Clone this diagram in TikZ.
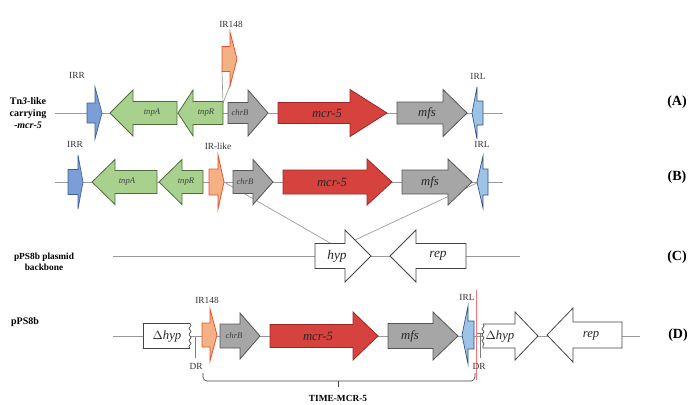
\documentclass[tikz,border=0pt]{standalone}
\usepackage{fontspec}
\setmainfont{Liberation Serif}
\usetikzlibrary{decorations.pathmorphing}

\definecolor{linegrey}{HTML}{9A9A9A}
\definecolor{irrblue}{HTML}{7C9ED6}
\definecolor{irrblueedge}{HTML}{3E5F94}
\definecolor{irlblue}{HTML}{9DC3E6}
\definecolor{irlblueedge}{HTML}{2F4F80}
\definecolor{tnpgreen}{HTML}{A9D18E}
\definecolor{tnpedge}{HTML}{4F6B3C}
\definecolor{chrgrey}{HTML}{A6A6A6}
\definecolor{chredge}{HTML}{555555}
\definecolor{mcrred}{HTML}{D6433F}
\definecolor{mcredge}{HTML}{9C2525}
\definecolor{isorange}{HTML}{F4B183}
\definecolor{isedge}{HTML}{E8502E}
\definecolor{darkedge}{HTML}{454545}

% gene arrow: style, tail x, head-back x, tip x, y, body half, head half
\newcommand{\genearrow}[7]{\draw[#1] (#2,{#5-#6}) -- (#3,{#5-#6}) -- (#3,{#5-#7}) -- (#4,#5) -- (#3,{#5+#7}) -- (#3,{#5+#6}) -- (#2,{#5+#6}) -- cycle;}

\begin{document}
\begin{tikzpicture}[x=0.75pt,y=0.75pt,yscale=-1,xscale=1,
  backbone/.style={draw=linegrey, line width=0.6pt},
  crossline/.style={draw=linegrey, line width=0.5pt},
  irr/.style={fill=irrblue, draw=irrblueedge, line width=0.5pt},
  irl/.style={fill=irlblue, draw=irlblueedge, line width=0.5pt},
  tnp/.style={fill=tnpgreen, draw=tnpedge, line width=0.6pt},
  chr/.style={fill=chrgrey, draw=chredge, line width=0.6pt},
  mcr/.style={fill=mcrred, draw=mcredge, line width=0.6pt},
  isel/.style={fill=isorange, draw=isedge, line width=0.6pt},
  whitegene/.style={fill=white, draw=darkedge, line width=0.6pt},
  torn/.style={draw=darkedge, line width=0.5pt, decorate, decoration={snake, segment length=4.5pt, amplitude=0.8pt}},
  lbl/.style={font=\fontsize{7}{8}\selectfont, text=black!80, inner sep=0pt},
  gsmall/.style={font=\fontsize{6.5}{7}\selectfont\itshape, text=black!75, inner sep=0pt},
  gname/.style={font=\fontsize{9.5}{10}\selectfont\itshape, text=black!85, inner sep=0pt},
  rowlbl/.style={font=\fontsize{7.5}{9}\selectfont\bfseries, align=center, inner sep=0pt},
  panel/.style={font=\fontsize{10.5}{12}\selectfont\bfseries, inner sep=0pt}]
\useasboundingbox (0,0) rectangle (697,404);

%%%%%%%% (A) Tn3-like element
\coordinate (a0) at (55,113);
\coordinate (a1) at (503,113);
\draw[backbone] (a0) -- (a1);
% insertion lines of IR148
\coordinate (insA) at (223,103);
\coordinate (isAl) at (222,71);
\coordinate (isAr) at (230,85);
\draw[crossline] (isAl) -- (insA);
\draw[crossline] (isAr) -- (insA);
\genearrow{irr}{87}{95}{102}{113}{10}{26}
\genearrow{tnp}{177}{133}{110}{113}{11.5}{23}
\genearrow{tnp}{223}{193}{178}{113}{11.5}{23}
\genearrow{chr}{228}{248}{268}{113}{10.5}{23}
\genearrow{mcr}{278}{350}{387}{113}{10.5}{23.5}
\genearrow{chr}{397}{443}{467}{113}{11}{23.5}
\genearrow{irl}{483}{477}{472}{113}{12}{26}
\genearrow{isel}{222}{230}{237}{59}{12.5}{27}

\node[lbl] (irrA) at (77,75) {IRR};
\node[lbl] (irlA) at (478,76) {IRL};
\node[lbl] (ir148A) at (231,24) {IR148};
\node[gsmall] (tnpAa) at (152,113) {tnpA};
\node[gsmall] (tnpRa) at (206,113) {tnpR};
\node[gsmall] (chrBa) at (240,113) {chrB};
\node[gname] (mcrA) at (327,113) {mcr-5};
\node[gname] (mfsA) at (427,113) {mfs};
\node[rowlbl] (rowA) at (28,113) {Tn\textit{3}-like\\carrying\\-\textit{mcr-5}};
\node[panel] (pA) at (677,102) {(A)};

%%%%%%%% (B) element with IR-like
\coordinate (b0) at (55,182);
\coordinate (b1) at (503,182);
\draw[backbone] (b0) -- (b1);
% lines down to the plasmid backbone
\coordinate (irlikeTip) at (224,182);
\coordinate (irlBTip) at (477,183);
\coordinate (hypTop) at (331,243.5);
\coordinate (hypHead) at (355,240);
\draw[crossline] (irlikeTip) -- (hypTop);
\draw[crossline] (irlBTip) -- (hypHead);
\genearrow{irr}{68}{78}{83}{182}{12.5}{27}
\genearrow{tnp}{157}{115}{92}{182}{11.5}{22.5}
\genearrow{tnp}{203}{182}{159}{182}{11.5}{22.5}
\genearrow{isel}{209}{218}{224}{182}{13}{27}
\genearrow{chr}{233}{253}{273}{182}{11.5}{22.5}
\genearrow{mcr}{283}{367}{392}{182}{12}{23}
\genearrow{chr}{402}{448}{472}{182}{12}{23}
\genearrow{irl}{488}{483}{477}{182}{13}{26}

\node[lbl] (irrB) at (75,144) {IRR};
\node[lbl] (irlikeB) at (218,146) {IR-like};
\node[lbl] (irlB) at (482,144) {IRL};
\node[gsmall] (tnpAb) at (127,182) {tnpA};
\node[gsmall] (tnpRb) at (186,182) {tnpR};
\node[gsmall] (chrBb) at (245,182) {chrB};
\node[gname] (mcrB) at (332,182) {mcr-5};
\node[gname] (mfsB) at (430,182) {mfs};
\node[panel] (pB) at (677,177) {(B)};

%%%%%%%% (C) plasmid backbone
\coordinate (c0) at (113,256);
\coordinate (c1) at (520,256);
\draw[backbone] (c0) -- (c1);
\genearrow{whitegene}{315}{345}{371}{256}{12.5}{26}
\genearrow{whitegene}{466}{416}{390}{256}{12.5}{26}
\node[gname, font=\fontsize{10}{11}\selectfont\itshape] (hypC) at (337,256) {hyp};
\node[gname, font=\fontsize{10}{11}\selectfont\itshape] (repC) at (438,256) {rep};
\node[rowlbl, font=\fontsize{7}{8.5}\selectfont\bfseries] (rowC) at (44,262) {pPS8b plasmid\\backbone};
\node[panel] (pC) at (677,257) {(C)};

%%%%%%%% (D) pPS8b with TIME-MCR-5
\coordinate (d0) at (113,336);
\coordinate (d1) at (640,336);
\draw[backbone] (d0) -- (d1);
% truncated hyp, left part
\fill[white] (143,323.5) rectangle (190,348.5);
\draw[whitegene] (190,323.5) -- (143,323.5) -- (143,348.5) -- (190,348.5);
\draw[torn] (190,323.5) -- (190,348.5);
% direct repeats
\draw[crossline, draw=darkedge!70] (195,337) -- (195,358);
\genearrow{isel}{202}{210}{217}{335}{12}{26}
\genearrow{chr}{220}{240}{260}{336}{12}{23}
\genearrow{mcr}{270}{353}{378}{336}{11.5}{24}
\genearrow{chr}{388}{433}{458}{336}{12.5}{24}
\genearrow{irl}{474}{468}{462}{335}{14}{29}
\draw[red!55, line width=0.25pt] (476,290) -- (476,380);
\draw[crossline, draw=darkedge!70] (480,333) -- (480,358);
\draw[crossline, draw=darkedge!70] (477,333) -- (483,333);
% truncated hyp, right part
\fill[white] (483,324) -- (515,324) -- (515,312) -- (538,336) -- (515,360) -- (515,348) -- (483,348) -- cycle;
\draw[whitegene] (483,324) -- (515,324) -- (515,312) -- (538,336) -- (515,360) -- (515,348) -- (483,348);
\draw[torn] (483,324) -- (483,348);
\genearrow{whitegene}{622}{573}{547}{335}{13}{27}

\node[lbl] (ir148D) at (207,300) {IR148};
\node[lbl] (irlD) at (467,297) {IRL};
\node[lbl] (drL) at (196,366) {DR};
\node[lbl] (drR) at (479,366) {DR};
\node[gname] (dhypL) at (167,336) {$\Delta$\textit{hyp}};
\node[gsmall] (chrBd) at (234,336) {chrB};
\node[gname] (mcrD) at (318,336) {mcr-5};
\node[gname] (mfsD) at (410,336) {mfs};
\node[gname] (dhypR) at (500,336) {$\Delta$\textit{hyp}};
\node[gname] (repD) at (591,336) {rep};
\node[rowlbl] (rowD) at (25,322) {pPS8b};
\node[panel] (pD) at (678,335) {(D)};

% TIME-MCR-5 bracket
\coordinate (brL) at (203,373);
\coordinate (brR) at (475,373);
\coordinate (brM) at (338,381);
\draw[draw=darkedge, line width=0.5pt, rounded corners=3pt] (brL) -- (203,381) -- (475,381) -- (brR);
\draw[draw=darkedge, line width=0.5pt] (brM) -- (338,387);
\node[rowlbl, font=\fontsize{7}{8}\selectfont\bfseries] (timeLbl) at (338,398) {TIME-MCR-5};
\end{tikzpicture}
\end{document}
